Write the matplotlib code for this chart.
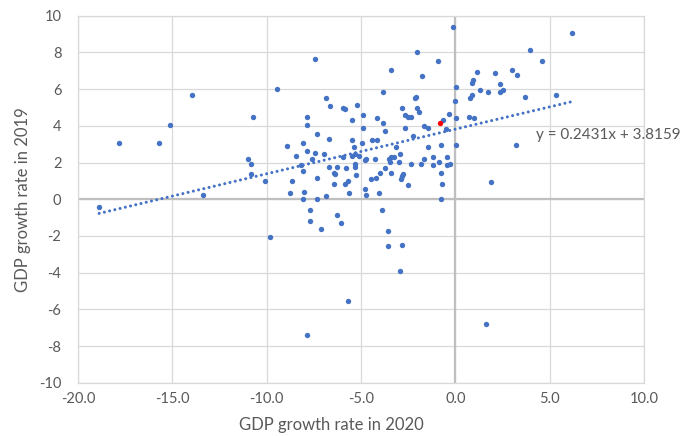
import numpy as np
import matplotlib
matplotlib.use("Agg")
import matplotlib.pyplot as plt

plt.rcParams["font.family"] = ["Lato", "DejaVu Sans"]

# GDP growth rates
gdp_2020 = [
    -0.12, -2.01, -0.94, -7.46, -3.41, -1.77, -9.43, 0.05, -3.82, -6.87,
    -2.16, -2.09, -0.04, -6.62, -5.97, -5.86, -5.23, -2.83, -2.01, -1.92,
    -10.72, -7.86, -7.86, -5.46, -4.88, -4.15, -3.82, -2.67, -2.51, -2.33,
    -0.67, -0.35, 0.03,
    -7.35, -4.89, -3.75, -2.67, -1.68, -1.43, -0.51, -2.24, -8.92, -8.09,
    -6.69, -5.46, -4.40, -4.15, -4.97, -5.37, -3.16, -1.43, -0.78, 0.03,
    -8.43, -7.84, -7.43, -7.61, -6.94, -5.94, -5.47, -5.30, -5.12, -4.80,
    -4.72, -4.24, -3.50, -3.43, -3.25, -2.91, -3.00, -3.48, -2.33, -1.84,
    -1.68, -1.18, -1.18, -0.85, -0.44, -0.44, -0.26,
    -8.16, -8.09, -6.69, -6.29, -5.79, -5.30, -5.30, -6.45, -6.36, -5.28,
    -3.73, -3.99, -3.39, -2.76, -2.83, -2.90, -4.22, -4.47, -0.78,
    -8.66, -10.07, -7.35, -5.71, -5.86, -6.45, -2.49, -0.69,
    -8.74, -8.02, -6.87, -5.62, -4.81, -4.72, -4.06, -0.78, -8.09, -7.35,
    -7.69, -6.29, -3.90, -7.69, -6.04, -7.12, -3.57, -9.84, -3.57, -2.83,
    -2.91, -5.71, -7.86,
    1.63,
    -13.95, -15.10, -17.82, -15.69, -10.99, -10.83, -10.83, -13.37, -18.88,
    6.16, 3.94, 4.59, 1.13, 0.95, 0.88, 2.12, 3.02, 3.27, 2.37,
    1.29, 1.71, 2.37, 2.54, 0.88, 0.79, 3.69, 5.34, 0.72, 0.97,
    3.20, 1.87,
]
gdp_2019 = [
    9.40, 8.04, 7.53, 7.62, 7.02, 6.70, 6.01, 6.10, 5.84, 5.50,
    5.50, 5.59, 5.33, 5.06, 4.99, 4.90, 5.15, 4.99, 4.99, 4.73,
    4.48, 4.48, 4.04, 4.32, 4.57, 4.41, 4.14, 4.57, 4.48, 4.48,
    4.32, 4.66, 4.41,
    3.55, 3.88, 3.72, 3.88, 3.97, 3.90, 3.81, 3.46, 2.88, 3.05,
    3.30, 3.21, 3.21, 3.21, 3.05, 2.86, 2.86, 2.86, 2.95, 2.95,
    2.37, 2.61, 2.53, 2.19, 2.45, 2.28, 2.37, 2.45, 2.37, 2.12,
    2.21, 2.19, 2.21, 2.28, 2.28, 2.45, 2.03, 2.03, 1.93, 1.93,
    2.19, 2.28, 1.86, 2.03, 2.28, 1.86, 1.93,
    1.86, 1.52, 1.77, 1.77, 1.68, 1.93, 1.77, 1.43, 1.36, 1.34,
    1.68, 1.43, 1.43, 1.36, 1.26, 1.08, 1.17, 1.08, 1.43,
    1.01, 1.01, 1.17, 1.01, 0.83, 0.83, 0.76, 0.84,
    0.32, 0.41, 0.16, 0.32, 0.57, 0.25, 0.32, -0.01, 0.00, 0.00,
    -0.61, -0.86, -0.61, -1.21, -1.28, -1.62, -1.71, -2.06, -2.55, -2.48,
    -3.91, -5.53, -7.40,
    -6.80,
    5.66, 4.04, 3.05, 3.05, 2.19, 1.93, 1.36, 0.25, -0.43,
    9.06, 8.11, 7.53, 6.93, 6.51, 6.35, 6.86, 7.02, 6.77, 6.26,
    5.93, 5.84, 5.84, 5.93, 5.68, 5.50, 5.59, 5.68, 4.50, 4.41,
    2.95, 0.92,
]
highlight = (-0.83, 4.15)

slope, intercept = 0.2431, 3.8159

x = np.array(gdp_2020)
y = np.array(gdp_2019)
assert len(x) == len(y)

fig = plt.figure(figsize=(6.89, 4.36), dpi=100)
ax = fig.add_axes([0.1132, 0.1222, 0.8215, 0.8418])

grey = "#595959"
blue = "#4472C4"

ax.set_xlim(-20, 10)
ax.set_ylim(-10, 10)
ax.set_xticks(np.arange(-20, 11, 5))
ax.set_yticks(np.arange(-10, 11, 2))
ax.set_xticklabels([f"{v:.1f}" for v in np.arange(-20, 11, 5)])
ax.set_yticklabels([f"{v:d}" for v in np.arange(-10, 11, 2)])
ax.tick_params(length=0, labelsize=10.5, labelcolor=grey, pad=7)
ax.tick_params(axis="y", pad=12)

ax.grid(True, color="#d9d9d9", linewidth=0.9, zorder=0)
ax.set_axisbelow(True)
for sp in ax.spines.values():
    sp.set_color("#d9d9d9")
    sp.set_linewidth(0.9)
ax.axhline(0, color="#bfbfbf", linewidth=1.6, zorder=1)
ax.axvline(0, color="#bfbfbf", linewidth=1.6, zorder=1)

ax.scatter(x, y, s=15, color=blue, zorder=3, linewidths=0)
ax.scatter([highlight[0]], [highlight[1]], s=15, color="#FF0000", zorder=4, linewidths=0)

all_x = np.append(x, highlight[0])
xt = np.array([all_x.min(), all_x.max()])
ax.plot(xt, slope * xt + intercept, color=blue, linewidth=2.2,
        linestyle=(0, (0.01, 1.75)), dash_capstyle="round", zorder=2)
ax.text(4.29, 3.5, f"y = {slope}x + {intercept}", color=grey, fontsize=11,
        ha="left", va="center", clip_on=False)

ax.set_xlabel("GDP growth rate in 2020", fontsize=12, color=grey, va="center")
ax.set_ylabel("GDP growth rate in 2019", fontsize=12, color=grey, va="center")
ax.xaxis.set_label_coords(0.447, -0.115)
ax.yaxis.set_label_coords(-0.097, 0.498)

fig.savefig("out.png", dpi=100)
